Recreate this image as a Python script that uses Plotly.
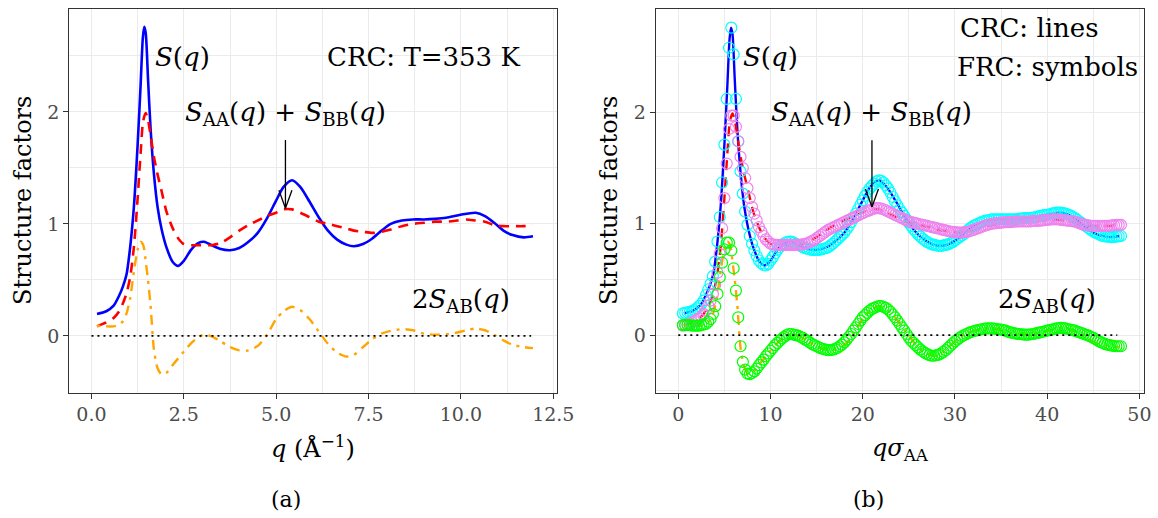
import plotly.graph_objects as go

# ---------------- data: panel (a), CRC, q in 1/Angstrom ----------------
q = [0.15, 0.4, 0.6, 0.75, 0.85, 0.95, 1.05, 1.15, 1.25, 1.33, 1.39, 1.43, 1.47, 1.53,
     1.60, 1.69, 1.79, 1.90, 2.03, 2.2, 2.35, 2.5, 2.7, 2.9, 3.05, 3.25, 3.5, 3.75, 4.0,
     4.25, 4.5, 4.75, 5.0, 5.2, 5.43, 5.65, 5.9, 6.15, 6.4, 6.65, 6.9, 7.1, 7.35, 7.6,
     7.85, 8.1, 8.4, 8.7, 9.0, 9.3, 9.6, 9.9, 10.15, 10.4, 10.65, 10.9, 11.15, 11.4, 11.7, 11.95]
S_crc = [0.195, 0.22, 0.27, 0.36, 0.44, 0.55, 0.80, 1.16, 1.71, 2.24, 2.66, 2.76, 2.70, 2.30,
         1.85, 1.45, 1.15, 0.95, 0.79, 0.66, 0.625, 0.67, 0.77, 0.83, 0.84, 0.81, 0.775, 0.765, 0.785,
         0.84, 0.92, 1.05, 1.21, 1.33, 1.39, 1.33, 1.20, 1.06, 0.94, 0.86, 0.815, 0.80, 0.82, 0.87,
         0.94, 1.00, 1.03, 1.04, 1.04, 1.045, 1.055, 1.075, 1.09, 1.10, 1.07, 1.01, 0.94, 0.90, 0.88, 0.89]
SAA_SBB_crc = [0.085, 0.12, 0.16, 0.22, 0.29, 0.38, 0.53, 0.80, 1.23, 1.63, 1.90, 1.96, 1.99, 1.93,
               1.79, 1.60, 1.44, 1.29, 1.11, 0.96, 0.87, 0.82, 0.81, 0.81, 0.81, 0.81, 0.83, 0.88, 0.94,
               0.99, 1.03, 1.07, 1.10, 1.13, 1.13, 1.10, 1.06, 1.02, 1.00, 0.98, 0.96, 0.94, 0.93, 0.92,
               0.93, 0.95, 0.98, 1.00, 1.01, 1.02, 1.02, 1.03, 1.04, 1.03, 1.02, 0.99, 0.98, 0.98, 0.98, 0.99]
twoSAB_crc = [0.09, 0.085, 0.085, 0.10, 0.13, 0.20, 0.34, 0.58, 0.77, 0.84, 0.82, 0.77, 0.66, 0.50,
              0.27, -0.12, -0.29, -0.345, -0.33, -0.26, -0.20, -0.14, -0.065, -0.01, 0.01, -0.005, -0.05, -0.10, -0.13,
              -0.13, -0.09, 0.01, 0.15, 0.22, 0.26, 0.23, 0.15, 0.04, -0.07, -0.15, -0.185, -0.17, -0.10, -0.03,
              0.02, 0.045, 0.06, 0.05, 0.02, 0.01, 0.015, 0.03, 0.05, 0.065, 0.05, 0.01, -0.04, -0.08, -0.10, -0.11]

SIGMA_AA = 4.0  # Angstrom: panel (b) abscissa is q * sigma_AA

# ---------------- data: panel (b), FRC symbols, x = q*sigma_AA ----------------
qsig_frc = [0.5, 0.75,
            1.0, 1.25, 1.5, 1.75, 2.0, 2.25, 2.5, 2.75, 3.0, 3.25, 3.5, 3.75,
            4.0, 4.25, 4.5, 4.75, 5.0, 5.25, 5.5, 5.75, 6.0, 6.25, 6.5, 6.75,
            7.0, 7.25, 7.5, 7.75, 8.0, 8.25, 8.5, 8.75, 9.0, 9.25, 9.5, 9.75,
            10.0, 10.25, 10.5, 10.75, 11.0, 11.25, 11.5, 11.75, 12.0, 12.25, 12.5, 12.75,
            13.0, 13.25, 13.5, 13.75, 14.0, 14.25, 14.5, 14.75, 15.0, 15.25, 15.5, 15.75,
            16.0, 16.25, 16.5, 16.75, 17.0, 17.25, 17.5, 17.75, 18.0, 18.25, 18.5, 18.75,
            19.0, 19.25, 19.5, 19.75, 20.0, 20.25, 20.5, 20.75, 21.0, 21.25, 21.5, 21.75,
            22.0, 22.25, 22.5, 22.75, 23.0, 23.25, 23.5, 23.75, 24.0, 24.25, 24.5, 24.75,
            25.0, 25.25, 25.5, 25.75, 26.0, 26.25, 26.5, 26.75, 27.0, 27.25, 27.5, 27.75,
            28.0, 28.25, 28.5, 28.75, 29.0, 29.25, 29.5, 29.75, 30.0, 30.25, 30.5, 30.75,
            31.0, 31.25, 31.5, 31.75, 32.0, 32.25, 32.5, 32.75, 33.0, 33.25, 33.5, 33.75,
            34.0, 34.25, 34.5, 34.75, 35.0, 35.25, 35.5, 35.75, 36.0, 36.25, 36.5, 36.75,
            37.0, 37.25, 37.5, 37.75, 38.0, 38.25, 38.5, 38.75, 39.0, 39.25, 39.5, 39.75,
            40.0, 40.25, 40.5, 40.75, 41.0, 41.25, 41.5, 41.75, 42.0, 42.25, 42.5, 42.75,
            43.0, 43.25, 43.5, 43.75, 44.0, 44.25, 44.5, 44.75, 45.0, 45.25, 45.5, 45.75,
            46.0, 46.25, 46.5, 46.75, 47.0, 47.25, 47.5, 47.75,
            48.0]
S_frc = [0.195, 0.20,
         0.205, 0.21, 0.215, 0.225, 0.24, 0.26, 0.28, 0.31, 0.36, 0.41, 0.46, 0.53,
         0.66, 0.84, 1.06, 1.37, 1.71, 2.12, 2.58, 2.76, 2.52, 2.12, 1.74, 1.47,
         1.27, 1.11, 0.99, 0.89, 0.82, 0.76, 0.71, 0.67, 0.645, 0.63, 0.625, 0.64,
         0.67, 0.70, 0.735, 0.765, 0.79, 0.81, 0.825, 0.835, 0.84, 0.84, 0.83, 0.82,
         0.81, 0.80, 0.79, 0.78, 0.775, 0.77, 0.765, 0.765, 0.765, 0.765, 0.77, 0.775,
         0.78, 0.79, 0.805, 0.82, 0.84, 0.86, 0.88, 0.90, 0.92, 0.95, 0.98, 1.015,
         1.05, 1.09, 1.13, 1.17, 1.21, 1.25, 1.285, 1.315, 1.34, 1.36, 1.38, 1.39,
         1.385, 1.37, 1.345, 1.315, 1.28, 1.24, 1.20, 1.165, 1.13, 1.10, 1.07, 1.04,
         1.01, 0.98, 0.95, 0.93, 0.905, 0.885, 0.865, 0.85, 0.835, 0.825, 0.815, 0.81,
         0.805, 0.80, 0.80, 0.805, 0.81, 0.815, 0.825, 0.835, 0.85, 0.865, 0.88, 0.895,
         0.91, 0.93, 0.95, 0.965, 0.98, 0.99, 1.00, 1.01, 1.02, 1.025, 1.03, 1.035,
         1.04, 1.04, 1.04, 1.04, 1.04, 1.04, 1.04, 1.04, 1.04, 1.04, 1.04, 1.042,
         1.045, 1.047, 1.05, 1.05, 1.05, 1.052, 1.055, 1.06, 1.065, 1.07, 1.075, 1.078,
         1.08, 1.085, 1.09, 1.095, 1.10, 1.10, 1.10, 1.095, 1.09, 1.083, 1.075, 1.063,
         1.05, 1.035, 1.02, 1.005, 0.99, 0.975, 0.96, 0.945, 0.93, 0.92, 0.91, 0.90,
         0.89, 0.887, 0.885, 0.882, 0.88, 0.882, 0.885, 0.887,
         0.89]
SAA_SBB_frc = [0.085, 0.09,
               0.10, 0.105, 0.115, 0.125, 0.14, 0.15, 0.17, 0.19, 0.22, 0.265, 0.31, 0.37,
               0.45, 0.56, 0.73, 0.96, 1.23, 1.54, 1.85, 1.97, 1.97, 1.87, 1.74, 1.60,
               1.50, 1.41, 1.32, 1.23, 1.15, 1.09, 1.03, 0.97, 0.93, 0.89, 0.86, 0.84,
               0.82, 0.815, 0.81, 0.81, 0.81, 0.81, 0.81, 0.81, 0.81, 0.81, 0.81, 0.81,
               0.81, 0.812, 0.815, 0.82, 0.825, 0.835, 0.845, 0.855, 0.87, 0.885, 0.90, 0.915,
               0.93, 0.945, 0.955, 0.965, 0.975, 0.985, 0.995, 1.005, 1.015, 1.025, 1.035, 1.045,
               1.055, 1.065, 1.075, 1.085, 1.095, 1.105, 1.115, 1.12, 1.13, 1.135, 1.14, 1.14,
               1.135, 1.13, 1.12, 1.11, 1.10, 1.09, 1.08, 1.07, 1.06, 1.05, 1.04, 1.03,
               1.02, 1.015, 1.01, 1.005, 1.00, 0.995, 0.99, 0.985, 0.98, 0.975, 0.97, 0.965,
               0.96, 0.955, 0.95, 0.945, 0.94, 0.935, 0.93, 0.927, 0.925, 0.922, 0.92, 0.92,
               0.925, 0.928, 0.93, 0.937, 0.945, 0.952, 0.96, 0.967, 0.975, 0.982, 0.99, 0.995,
               1.00, 1.002, 1.005, 1.008, 1.01, 1.012, 1.015, 1.015, 1.015, 1.017, 1.02, 1.02,
               1.02, 1.02, 1.02, 1.02, 1.02, 1.022, 1.025, 1.025, 1.025, 1.027, 1.03, 1.032,
               1.035, 1.037, 1.04, 1.04, 1.04, 1.04, 1.035, 1.032, 1.03, 1.027, 1.025, 1.022,
               1.02, 1.012, 1.005, 0.997, 0.99, 0.987, 0.985, 0.982, 0.98, 0.98, 0.98, 0.98,
               0.98, 0.98, 0.98, 0.982, 0.985, 0.987, 0.99, 0.99,
               0.99]
twoSAB_frc = [0.09, 0.09,
              0.09, 0.09, 0.085, 0.085, 0.085, 0.085, 0.09, 0.095, 0.10, 0.12, 0.145, 0.19,
              0.26, 0.37, 0.52, 0.65, 0.77, 0.83, 0.83, 0.76, 0.60, 0.40, 0.16, -0.10,
              -0.24, -0.31, -0.345, -0.35, -0.34, -0.325, -0.30, -0.27, -0.245, -0.22, -0.19, -0.165,
              -0.14, -0.115, -0.09, -0.07, -0.05, -0.03, -0.015, 0.0, 0.01, 0.01, 0.005, 0.0,
              -0.005, -0.015, -0.025, -0.04, -0.05, -0.065, -0.08, -0.09, -0.10, -0.11, -0.12, -0.125,
              -0.13, -0.135, -0.135, -0.13, -0.125, -0.115, -0.10, -0.085, -0.065, -0.04, -0.015, 0.01,
              0.04, 0.07, 0.10, 0.13, 0.16, 0.18, 0.20, 0.22, 0.235, 0.245, 0.255, 0.26,
              0.26, 0.255, 0.245, 0.23, 0.21, 0.185, 0.16, 0.13, 0.10, 0.07, 0.04, 0.01,
              -0.02, -0.05, -0.07, -0.09, -0.11, -0.13, -0.145, -0.16, -0.17, -0.18, -0.185, -0.185,
              -0.18, -0.175, -0.165, -0.15, -0.135, -0.115, -0.095, -0.075, -0.055, -0.04, -0.025, -0.01,
              0.0, 0.01, 0.02, 0.028, 0.035, 0.04, 0.045, 0.05, 0.055, 0.058, 0.06, 0.06,
              0.06, 0.058, 0.055, 0.052, 0.05, 0.045, 0.04, 0.032, 0.025, 0.02, 0.015, 0.012,
              0.01, 0.008, 0.005, 0.005, 0.005, 0.008, 0.01, 0.015, 0.02, 0.025, 0.03, 0.035,
              0.04, 0.045, 0.05, 0.055, 0.06, 0.063, 0.065, 0.063, 0.06, 0.055, 0.05, 0.045,
              0.04, 0.032, 0.025, 0.018, 0.01, 0.002, -0.005, -0.015, -0.025, -0.037, -0.05, -0.06,
              -0.07, -0.078, -0.085, -0.09, -0.095, -0.098, -0.10, -0.10,
              -0.10]

assert len(S_crc) == len(SAA_SBB_crc) == len(twoSAB_crc) == len(q)
assert len(S_frc) == len(SAA_SBB_frc) == len(twoSAB_frc) == len(qsig_frc)

zero_q = [0.0, 11.9]
zero_qsig = [0.0, 47.6]
zero_y = [0.0, 0.0]

ticks_a = [0.0, 2.5, 5.0, 7.5, 10.0, 12.5]
ticks_b = [0, 10, 20, 30, 40, 50]
ticks_y = [0, 1, 2]

# ---------------- styling ----------------
W, H = 1158, 518
SERIF = "DejaVu Serif"
BLUE, RED, ORANGE = "#0000FF", "#FF0000", "#FFA500"
CYAN, VIOLET, LIME = "#00FFFF", "#EE82EE", "#00FF00"
GRID = "#EBEBEB"
BORDER = "#333333"
DASHED = "10px,7px"
DOTDASH = "3px,6px,10px,6px"
DOTTED = "2px,4px"

fig = go.Figure()

qsig_crc = [v * SIGMA_AA for v in q]

def line(x, y, color, dash, width, xa, ya):
    fig.add_trace(go.Scatter(x=x, y=y, mode="lines", xaxis=xa, yaxis=ya,
                             line=dict(color=color, width=width, dash=dash,
                                       shape="spline", smoothing=0.7),
                             hoverinfo="skip", showlegend=False))

# panel (a)
line(q, S_crc, BLUE, "solid", 2.6, "x", "y")
line(q, SAA_SBB_crc, RED, DASHED, 2.6, "x", "y")
line(q, twoSAB_crc, ORANGE, DOTDASH, 2.4, "x", "y")
fig.add_trace(go.Scatter(x=zero_q, y=zero_y, mode="lines", xaxis="x", yaxis="y",
                         line=dict(color="black", width=1.6, dash=DOTTED),
                         hoverinfo="skip", showlegend=False))

# panel (b): CRC lines underneath FRC symbols
line(qsig_crc, S_crc, BLUE, "solid", 2.4, "x2", "y2")
line(qsig_crc, SAA_SBB_crc, RED, DASHED, 2.4, "x2", "y2")
line(qsig_crc, twoSAB_crc, ORANGE, DOTDASH, 2.4, "x2", "y2")
for yy, col in [(S_frc, CYAN), (SAA_SBB_frc, VIOLET), (twoSAB_frc, LIME)]:
    fig.add_trace(go.Scatter(x=qsig_frc, y=yy, mode="markers", xaxis="x2", yaxis="y2",
                             marker=dict(symbol="circle-open", size=11, color=col,
                                         line=dict(width=1.2, color=col)),
                             hoverinfo="skip", showlegend=False))
fig.add_trace(go.Scatter(x=zero_qsig, y=zero_y, mode="lines", xaxis="x2", yaxis="y2",
                         line=dict(color="black", width=1.6, dash=DOTTED),
                         hoverinfo="skip", showlegend=False))

ytop, ybot = 9.3, 392.5
ydom = [1 - ybot / H, 1 - ytop / H]
axis_common = dict(showline=True, mirror=True, linecolor=BORDER, linewidth=1.2,
                   ticks="outside", ticklen=5, tickwidth=1.1, tickcolor=BORDER,
                   showgrid=True, gridcolor=GRID, gridwidth=1.1, zeroline=False,
                   automargin=False,
                   tickfont=dict(family=SERIF, size=19, color="#4D4D4D"))

fig.update_layout(
    width=W, height=H, margin=dict(l=0, r=0, t=0, b=0, autoexpand=False),
    paper_bgcolor="white", plot_bgcolor="white", showlegend=False,
    xaxis=dict(domain=[69.3 / W, 557 / W], range=[-0.6, 12.6], tickvals=ticks_a,
               ticktext=[f"{v:.1f}" for v in ticks_a],
               minor=dict(dtick=1.25, tick0=0, showgrid=True, gridcolor=GRID, gridwidth=0.6),
               anchor="y", **axis_common),
    yaxis=dict(domain=ydom, range=[-0.506, 2.917], tickvals=ticks_y,
               minor=dict(dtick=0.5, tick0=0, showgrid=True, gridcolor=GRID, gridwidth=0.6),
               anchor="x", **axis_common),
    xaxis2=dict(domain=[655.7 / W, 1144 / W], range=[-2.45, 50.5], tickvals=ticks_b,
                minor=dict(dtick=5, tick0=0, showgrid=True, gridcolor=GRID, gridwidth=0.6),
                anchor="y2", **axis_common),
    yaxis2=dict(domain=ydom, range=[-0.515, 2.925], tickvals=ticks_y,
                minor=dict(dtick=0.5, tick0=0, showgrid=True, gridcolor=GRID, gridwidth=0.6),
                anchor="x2", **axis_common),
)

ann = []
def text(x, y, s, xref, yref, size=26, angle=0):
    ann.append(dict(x=x, y=y, xref=xref, yref=yref, text=s, showarrow=False,
                    xanchor="center", yanchor="middle", textangle=angle,
                    font=dict(family=SERIF, size=size, color="black")))

S_lbl = "<i>S</i>(<i>q</i>)"
SS_lbl = "<i>S</i><sub>AA</sub>(<i>q</i>) + <i>S</i><sub>BB</sub>(<i>q</i>)"
AB_lbl = "2<i>S</i><sub>AB</sub>(<i>q</i>)"

# panel (a) labels
text(2.47, 2.49, S_lbl, "x", "y")
text(9.0, 2.49, "CRC: T=353 K", "x", "y")
text(5.25, 1.99, SS_lbl, "x", "y")
text(9.99, 0.32, AB_lbl, "x", "y")
# panel (b) labels
text(9.95, 2.50, S_lbl, "x2", "y2")
text(38.1, 2.76, "CRC: lines", "x2", "y2")
text(40.0, 2.41, "FRC: symbols", "x2", "y2")
text(21.0, 1.99, SS_lbl, "x2", "y2")
text(40.0, 0.31, AB_lbl, "x2", "y2")

# axis titles and captions
text(23 / W, 1 - 201 / H, "Structure factors", "paper", "paper", size=24, angle=-90)
text(609 / W, 1 - 201 / H, "Structure factors", "paper", "paper", size=24, angle=-90)
text(313 / W, 1 - 447 / H, "<i>q</i> (Å<sup>−1</sup>)", "paper", "paper", size=24)
text(900 / W, 1 - 449 / H, "<i>qσ</i><sub>AA</sub>", "paper", "paper", size=24)
text(286 / W, 1 - 499 / H, "(a)", "paper", "paper", size=22)
text(868 / W, 1 - 499 / H, "(b)", "paper", "paper", size=22)

fig.update_layout(annotations=ann)

# arrows pointing at the S_AA + S_BB maxima (shaft + open V head)
arrow_style = dict(color="black", width=1.3)
for xr, yr, x0, y0, y1 in [("x", "y", 5.25, 1.75, 1.14), ("x2", "y2", 21.0, 1.75, 1.15)]:
    fig.add_shape(type="line", xref=xr, yref=yr, x0=x0, x1=x0, y0=y0, y1=y1, line=arrow_style)
    for dx in (-6.5, 6.5):
        fig.add_shape(type="line", xref=xr, yref=yr,
                      xsizemode="pixel", xanchor=x0, x0=dx, x1=0,
                      ysizemode="pixel", yanchor=y1, y0=18, y1=0, line=arrow_style)

fig.write_html("out.html")
